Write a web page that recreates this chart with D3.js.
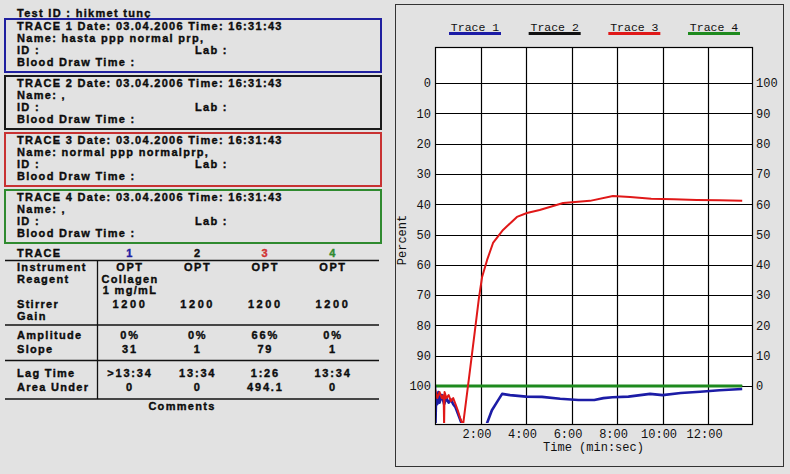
<!DOCTYPE html>
<html>
<head>
<meta charset="utf-8">
<script src="https://cdn.jsdelivr.net/npm/d3@7"></script>
<style>
  html, body { margin: 0; padding: 0; background: #e2e2e2; }
  svg { display: block; }
  .sans { font-family: "Liberation Sans", Arial, sans-serif; font-weight: bold; font-size: 11px; letter-spacing: 1.3px; fill: #111; stroke: currentColor; stroke-width: 0.35px; }
  .mono { font-family: "Liberation Mono", "Courier New", monospace; font-size: 12px; fill: #111; }
</style>
</head>
<body>
<svg id="chart" width="790" height="474"></svg>
<script>
// ---------------- DATA ----------------
const testId = "Test ID : hikmet tunç";
const traceIds = [1, 2, 3, 4];
const traceDate = "03.04.2006";
const traceTime = "16:31:43";
const traceNames = ["hasta ppp normal prp,", ",", "normal ppp normalprp,", ","];

const instrument = ["OPT", "OPT", "OPT", "OPT"];
const reagent = [["Collagen", "1 mg/mL"], [], [], []];
const stirrerGain = ["1200", "1200", "1200", "1200"];
const amplitude = ["0%", "0%", "66%", "0%"];
const slope = ["31", "1", "79", "1"];
const lagTime = [">13:34", "13:34", "1:26", "13:34"];
const areaUnder = ["0", "0", "494.1", "0"];

const legendLabels = ["Trace 1", "Trace 2", "Trace 3", "Trace 4"];
const leftTicks = [0, 10, 20, 30, 40, 50, 60, 70, 80, 90, 100];
const rightTickLabels = [100, 90, 80, 70, 60, 50, 40, 30, 20, 10, 0];
const timeTicks = [2, 4, 6, 8, 10, 12];           // minutes
const timeTickLabels = ["2:00", "4:00", "6:00", "8:00", "10:00", "12:00"];

// [time (min), percent]
const trace1 = [[0,100],[0.02,113],[0.05,103],[0.1,106],[0.15,102],[0.2,105.5],[0.3,103],[0.4,106],[0.5,104],
  [0.6,105.5],[0.7,104.5],[0.8,106],[0.9,107],[1.0,109],[1.1,111],[1.2,113],[2.25,113],[2.5,108],[2.75,105],
  [2.95,102.6],[3.3,103],[4.0,103.5],[4.7,103.6],[5.5,104.2],[6.3,104.6],[7.0,104.6],[7.4,104],[7.8,103.7],
  [8.5,103.5],[9.45,102.6],[10.0,103],[10.8,102.3],[11.65,101.9],[12.5,101.4],[13.5,101]];
const trace2 = [[0,100],[13.5,100]];
const trace3 = [[0,101],[0.1,104],[0.2,102],[0.3,104],[0.38,103],[0.4,113],[0.42,102],[0.5,104],[0.6,103],
  [0.7,105],[0.8,104],[0.9,106],[1.0,108],[1.1,110.5],[1.23,113],[1.5,97],[1.75,82],[1.93,71],[2.07,64],
  [2.29,58.4],[2.55,52.8],[2.99,48.5],[3.6,44.2],[4.04,42.9],[4.6,41.9],[5.63,39.6],[6.81,38.9],[7.82,37.3],
  [8.57,37.6],[9.5,38.2],[10.5,38.4],[11.5,38.6],[12.5,38.7],[13.5,38.9]];
const trace4 = [[0,100],[13.5,100]];

// ---------------- STYLE ----------------
const traceColors = ["#1c1ca6", "#111111", "#e01818", "#1e8a1e"];
const boxColors = ["#2020a0", "#1a1a1a", "#c83232", "#2f8a2f"];
const numColors = ["#2020a0", "#111111", "#d03030", "#2f8a2f"];

const svg = d3.select("#chart");

// ---------------- LEFT PANEL ----------------
svg.append("text").attr("class", "sans").attr("x", 17).attr("y", 16.5).text(testId);

const boxTop = d3.scaleLinear().domain([0, 1]).range([19, 76]);
traceIds.forEach((id, i) => {
  const top = boxTop(i);
  const g = svg.append("g");
  g.append("rect").attr("x", 5).attr("y", top).attr("width", 376).attr("height", 53)
    .attr("fill", "none").attr("stroke", boxColors[i]).attr("stroke-width", 2);
  g.append("text").attr("class", "sans").attr("x", 17).attr("y", top + 11.3)
    .text(`TRACE ${id} Date: ${traceDate} Time: ${traceTime}`);
  g.append("text").attr("class", "sans").attr("x", 17).attr("y", top + 22.5).text(`Name: ${traceNames[i]}`);
  g.append("text").attr("class", "sans").attr("x", 17).attr("y", top + 35).text("ID  :");
  g.append("text").attr("class", "sans").attr("x", 195).attr("y", top + 35).text("Lab :");
  g.append("text").attr("class", "sans").attr("x", 17).attr("y", top + 46.5).text("Blood Draw Time :");
});

// table
const colX = d3.scalePoint().domain(traceIds).range([130, 333]);
const tbl = svg.append("g");
tbl.append("text").attr("class", "sans").attr("x", 17).attr("y", 257).text("TRACE");
traceIds.forEach((id, i) => {
  tbl.append("text").attr("class", "sans").attr("x", colX(id)).attr("y", 257)
    .attr("text-anchor", "middle").style("fill", numColors[i]).style("stroke", numColors[i]).text(id);
});
[260.5, 325, 360.5, 399].forEach(yy => {
  tbl.append("line").attr("x1", 5).attr("x2", 379).attr("y1", yy).attr("y2", yy)
    .attr("stroke", "#111").attr("stroke-width", 1.3);
});
tbl.append("line").attr("x1", 97.5).attr("x2", 97.5).attr("y1", 260.5).attr("y2", 399)
  .attr("stroke", "#111").attr("stroke-width", 1.3);

const rowLabels = [["Instrument", 271.3], ["Reagent", 283.3], ["Stirrer", 308.3], ["Gain", 320.3],
  ["Amplitude", 339], ["Slope", 353.3], ["Lag Time", 377], ["Area Under", 391.3]];
rowLabels.forEach(([t, yy]) => tbl.append("text").attr("class", "sans").attr("x", 17).attr("y", yy).text(t));

function valueRow(values, yy, ls) {
  traceIds.forEach((id, i) => {
    tbl.append("text").attr("class", "sans").attr("x", colX(id)).attr("y", yy)
      .attr("text-anchor", "middle").style("letter-spacing", ls + "px").text(values[i]);
  });
}
valueRow(instrument, 271.3, 1.6);
traceIds.forEach((id, i) => {
  reagent[i].forEach((t, k) => {
    tbl.append("text").attr("class", "sans").attr("x", colX(id)).attr("y", 283.3 + k * 11)
      .attr("text-anchor", "middle").text(t);
  });
});
valueRow(stirrerGain, 308.3, 2.6);
valueRow(amplitude, 339, 1.8);
valueRow(slope, 353.3, 1.8);
valueRow(lagTime, 377, 1.8);
valueRow(areaUnder, 391.3, 1.8);
tbl.append("text").attr("class", "sans").attr("x", 182).attr("y", 410.3).attr("text-anchor", "middle").text("Comments");

// ---------------- RIGHT PANEL ----------------
svg.append("rect").attr("x", 395.5).attr("y", 4.5).attr("width", 388).attr("height", 462)
  .attr("fill", "#e2e2e2").attr("stroke", "#333").attr("stroke-width", 1);

const plotL = 435, plotR = 752, plotT = 47, plotB = 424;
const x = d3.scaleLinear().domain([0, 13.93]).range([plotL, plotR]);
const y = d3.scaleLinear().domain([0, 100]).range([83, 386]);
const yR = d3.scaleLinear().domain([100, 0]).range([83, 386]);

svg.append("rect").attr("x", plotL).attr("y", plotT).attr("width", plotR - plotL).attr("height", plotB - plotT)
  .attr("fill", "#fff");

// grid
const grid = svg.append("g").attr("stroke", "#000").attr("stroke-width", 1.2);
timeTicks.forEach(t => grid.append("line").attr("x1", Math.round(x(t)) + 0.5).attr("x2", Math.round(x(t)) + 0.5)
  .attr("y1", plotT).attr("y2", plotB));
leftTicks.forEach(p => grid.append("line").attr("x1", plotL).attr("x2", plotR)
  .attr("y1", Math.round(y(p)) + 0.5).attr("y2", Math.round(y(p)) + 0.5));

// axis labels
const leftAxis = d3.axisLeft(y).tickValues(leftTicks).tickSize(0).tickPadding(4);
const gL = svg.append("g").attr("transform", `translate(${plotL},0)`).call(leftAxis);
const rightAxis = d3.axisRight(yR).tickValues(rightTickLabels).tickSize(0).tickPadding(4);
const gR = svg.append("g").attr("transform", `translate(${plotR},0)`).call(rightAxis);
const bottomAxis = d3.axisBottom(x).tickValues(timeTicks).tickSize(0).tickPadding(5)
  .tickFormat((d, i) => timeTickLabels[i]);
const gB = svg.append("g").attr("transform", `translate(0,${plotB})`).call(bottomAxis);
[gL, gR, gB].forEach(g => {
  g.select(".domain").remove();
  g.selectAll("text").attr("class", "mono").attr("fill", "#111")
    .style("font-family", '"Liberation Mono", "Courier New", monospace').style("font-size", "12px");
});
gB.selectAll("text").attr("dx", -4);

svg.append("text").attr("class", "mono").attr("x", (plotL + plotR) / 2).attr("y", 451)
  .attr("text-anchor", "middle").text("Time (min:sec)");
svg.append("text").attr("class", "mono").attr("transform", "translate(406,240) rotate(-90)")
  .attr("text-anchor", "middle").text("Percent");

// legend
const legX = d3.scalePoint().domain(legendLabels).range([475, 714]);
legendLabels.forEach((lab, i) => {
  svg.append("text").attr("class", "mono").attr("x", legX(lab)).attr("y", 31)
    .attr("text-anchor", "middle").style("font-size", "11.5px").text(lab);
  svg.append("rect").attr("x", legX(lab) - 26).attr("y", 32).attr("width", 52).attr("height", 3)
    .attr("fill", traceColors[i]);
});

// traces
svg.append("clipPath").attr("id", "clip").append("rect")
  .attr("x", plotL).attr("y", plotT).attr("width", plotR - plotL).attr("height", plotB - plotT - 1);
const line = d3.line().x(d => x(d[0])).y(d => y(d[1]));
const traces = [trace2, trace4, trace1, trace3];
const order = [1, 3, 0, 2];
const widths = [2.6, 2.2, 2, 3];
traces.forEach((tr, k) => {
  const i = order[k];
  svg.append("path").attr("d", line(tr)).attr("fill", "none")
    .attr("stroke", traceColors[i]).attr("stroke-width", widths[i])
    .attr("stroke-linejoin", "round").attr("clip-path", "url(#clip)");
});

// plot border
svg.append("rect").attr("x", plotL + 0.5).attr("y", plotT + 0.5).attr("width", plotR - plotL).attr("height", plotB - plotT)
  .attr("fill", "none").attr("stroke", "#000").attr("stroke-width", 1.2);
</script>
</body>
</html>
